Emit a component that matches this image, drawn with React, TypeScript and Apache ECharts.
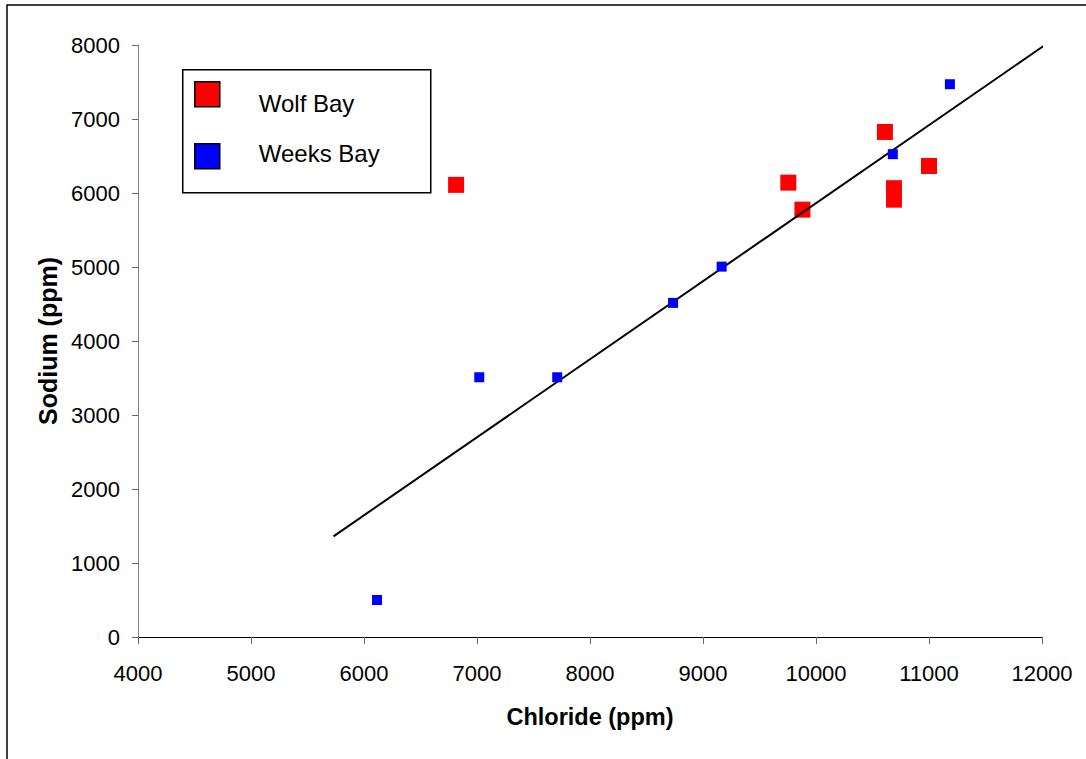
import React, { useEffect, useRef } from "react";
import * as echarts from "echarts";

const wolfBay: [number, number][] = [
  [6815, 6110],
  [9755, 6140],
  [9880, 5775],
  [10610, 6825],
  [10690, 6065],
  [10690, 5910],
  [11000, 6365],
];

const weeksBay: [number, number][] = [
  [6115, 500],
  [7020, 3510],
  [7710, 3510],
  [8735, 4515],
  [9165, 5005],
  [10680, 6525],
  [11185, 7470],
];

const trendLine: [number, number][] = [
  [5730, 1360],
  [12050, 8025],
];

const xTitle = "Chloride (ppm)";
const yTitle = "Sodium (ppm)";
const seriesNames = ["Wolf Bay", "Weeks Bay"];

export default function App() {
  const ref = useRef<HTMLDivElement>(null);
  useEffect(() => {
    if (!ref.current) return;
    const chart = echarts.init(ref.current, null, { renderer: "svg" });
    const font = "Liberation Sans, Arial, sans-serif";
    chart.setOption({
      animation: false,
      backgroundColor: "#ffffff",
      textStyle: { fontFamily: font },
      grid: { left: 138, top: 45, right: 44, bottom: 122, containLabel: false },
      xAxis: {
        type: "value",
        min: 4000,
        max: 12000,
        interval: 1000,
        name: xTitle,
        nameLocation: "middle",
        nameGap: 68,
        nameTextStyle: { fontSize: 23.5, fontWeight: "bold", color: "#000", fontFamily: font },
        axisLine: { show: true, lineStyle: { color: "#000", width: 1 } },
        axisTick: { show: true, length: 7, lineStyle: { color: "#666" } },
        axisLabel: { fontSize: 22, color: "#000", margin: 25, fontFamily: font, formatter: (v: number) => String(v) },
        splitLine: { show: false },
      },
      yAxis: {
        type: "value",
        min: 0,
        max: 8000,
        interval: 1000,
        name: yTitle,
        nameLocation: "middle",
        nameGap: 76,
        nameRotate: 90,
        nameTextStyle: { fontSize: 25, fontWeight: "bold", color: "#000", fontFamily: font },
        axisLine: { show: true, lineStyle: { color: "#808080", width: 1 } },
        axisTick: { show: true, length: 6, lineStyle: { color: "#666" } },
        axisLabel: { fontSize: 22, color: "#000", margin: 18, fontFamily: font, formatter: (v: number) => String(v) },
        splitLine: { show: false },
      },
      series: [
        {
          type: "line",
          data: trendLine,
          symbol: "none",
          clip: false,
          lineStyle: { color: "#000", width: 2 },
          z: 3,
          silent: true,
        },
        {
          name: seriesNames[0],
          type: "scatter",
          data: wolfBay,
          symbol: "rect",
          symbolSize: 16,
          itemStyle: { color: "#ff0000", opacity: 1 },
          z: 2,
        },
        {
          name: seriesNames[1],
          type: "scatter",
          data: weeksBay,
          symbol: "rect",
          symbolSize: 10,
          itemStyle: { color: "#0000ff", opacity: 1 },
          z: 4,
        },
      ],
      graphic: [
        {
          type: "rect",
          shape: { x: 7, y: 5, width: 1100, height: 800 },
          style: { fill: "none", stroke: "#000", lineWidth: 1.5 },
          silent: true,
          z: 0,
        },
        {
          type: "group",
          left: 182,
          top: 69,
          children: [
            {
              type: "rect",
              shape: { x: 0, y: 0, width: 248, height: 123 },
              style: { fill: "#fff", stroke: "#000", lineWidth: 1.5 },
            },
            {
              type: "rect",
              shape: { x: 12, y: 12, width: 25, height: 25 },
              style: { fill: "#ff0000", stroke: "#000", lineWidth: 1.5 },
            },
            {
              type: "text",
              x: 76,
              y: 34,
              style: { text: seriesNames[0], fontSize: 24, fill: "#000", fontFamily: font, textVerticalAlign: "middle" },
            },
            {
              type: "rect",
              shape: { x: 12, y: 74, width: 25, height: 25 },
              style: { fill: "#0000ff", stroke: "#000", lineWidth: 1.5 },
            },
            {
              type: "text",
              x: 76,
              y: 84,
              style: { text: seriesNames[1], fontSize: 24, fill: "#000", fontFamily: font, textVerticalAlign: "middle" },
            },
          ],
        },
      ],
    });
    return () => chart.dispose();
  }, []);
  return (
    <div
      ref={ref}
      style={{ position: "fixed", left: 0, top: 0, width: 1086, height: 759 }}
    />
  );
}
